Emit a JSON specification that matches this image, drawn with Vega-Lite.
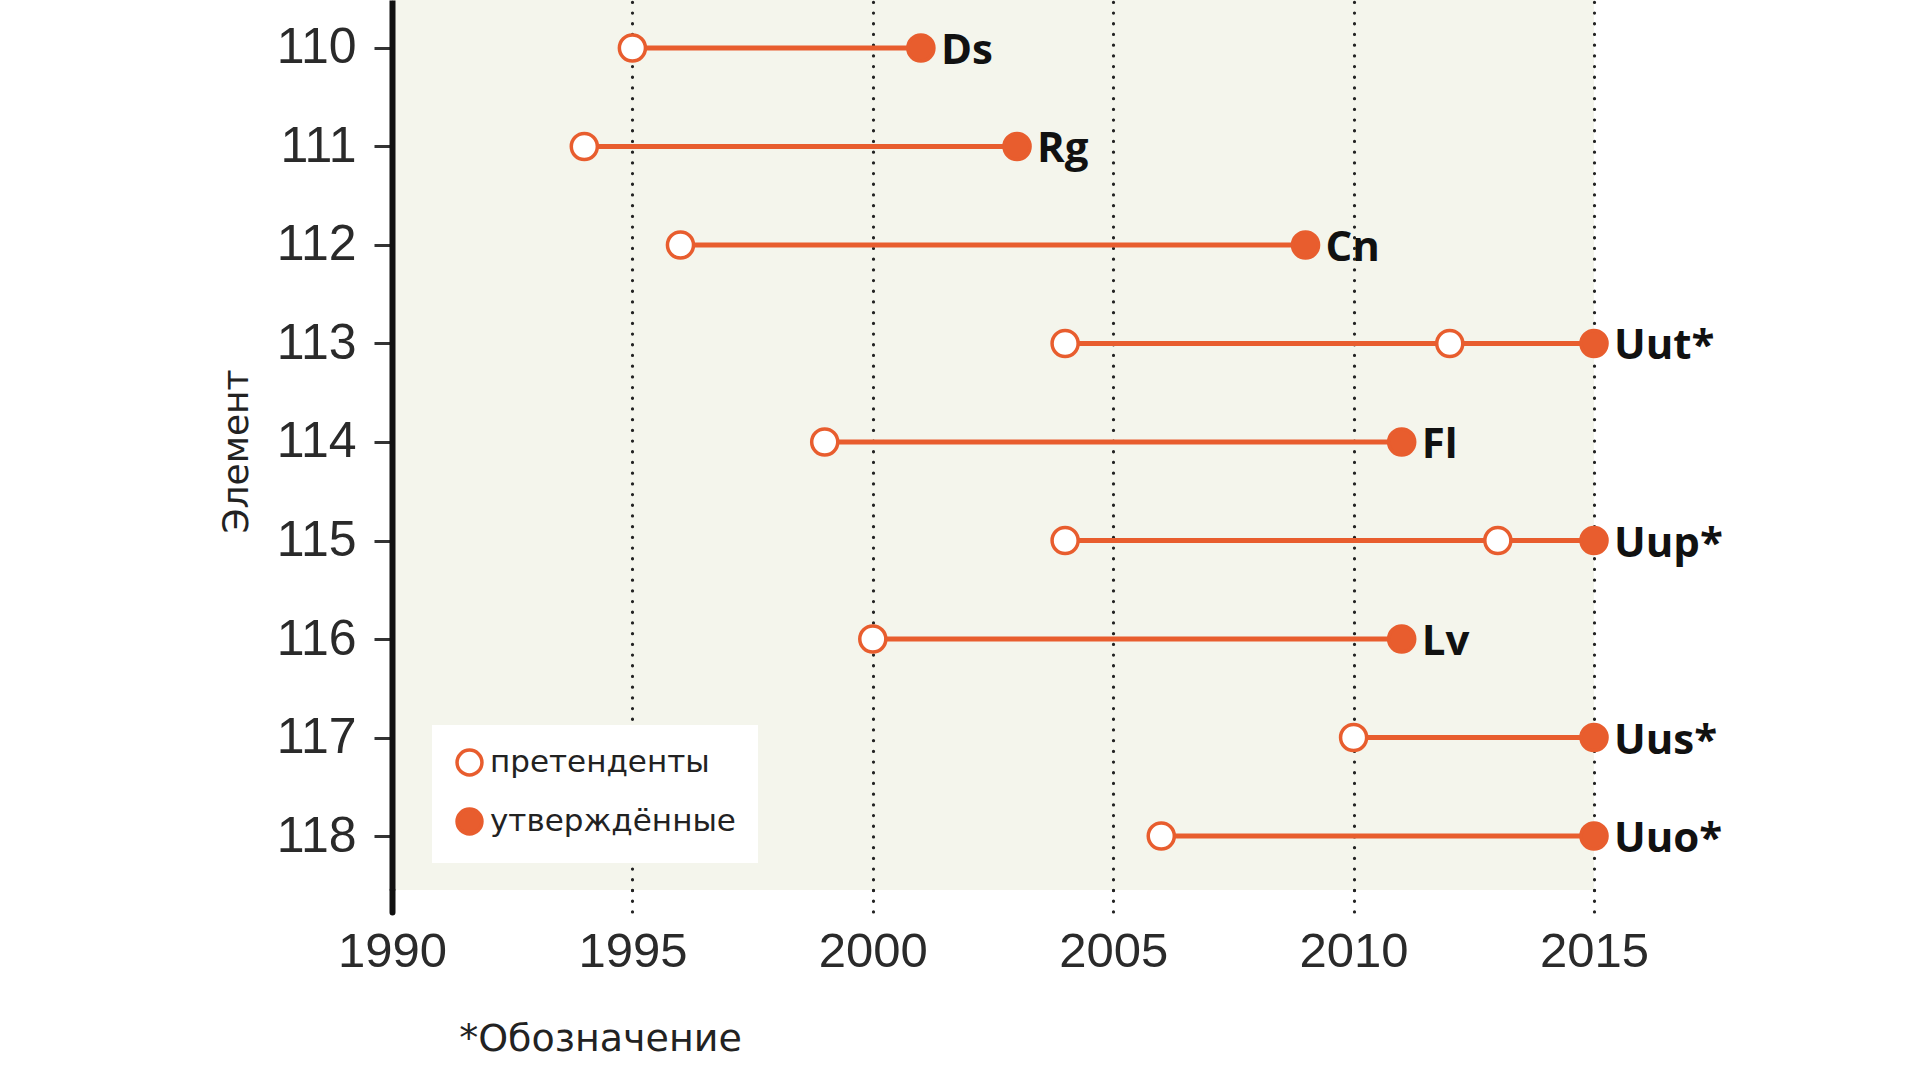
{
  "$schema": "https://vega.github.io/schema/vega-lite/v6.json",
  "autosize": "none",
  "padding": {"left": 392, "top": 0, "right": 326, "bottom": 190},
  "width": 1202,
  "height": 890,
  "background": "white",
  "config": {"view": {"stroke": null, "fill": "#f4f5ec"}},
  "datasets": {
    "segments": [
      {"element": 110, "start": 1995, "end": 2001, "label": "Ds"},
      {"element": 111, "start": 1994, "end": 2003, "label": "Rg"},
      {"element": 112, "start": 1996, "end": 2009, "label": "Cn"},
      {"element": 113, "start": 2004, "end": 2015, "label": "Uut*"},
      {"element": 114, "start": 1999, "end": 2011, "label": "Fl"},
      {"element": 115, "start": 2004, "end": 2015, "label": "Uup*"},
      {"element": 116, "start": 2000, "end": 2011, "label": "Lv"},
      {"element": 117, "start": 2010, "end": 2015, "label": "Uus*"},
      {"element": 118, "start": 2006, "end": 2015, "label": "Uuo*"}
    ],
    "points": [
      {"element": 110, "year": 1995, "status": "претенденты"},
      {"element": 110, "year": 2001, "status": "утверждённые"},
      {"element": 111, "year": 1994, "status": "претенденты"},
      {"element": 111, "year": 2003, "status": "утверждённые"},
      {"element": 112, "year": 1996, "status": "претенденты"},
      {"element": 112, "year": 2009, "status": "утверждённые"},
      {"element": 113, "year": 2004, "status": "претенденты"},
      {"element": 113, "year": 2012, "status": "претенденты"},
      {"element": 113, "year": 2015, "status": "утверждённые"},
      {"element": 114, "year": 1999, "status": "претенденты"},
      {"element": 114, "year": 2011, "status": "утверждённые"},
      {"element": 115, "year": 2004, "status": "претенденты"},
      {"element": 115, "year": 2013, "status": "претенденты"},
      {"element": 115, "year": 2015, "status": "утверждённые"},
      {"element": 116, "year": 2000, "status": "претенденты"},
      {"element": 116, "year": 2011, "status": "утверждённые"},
      {"element": 117, "year": 2010, "status": "претенденты"},
      {"element": 117, "year": 2015, "status": "утверждённые"},
      {"element": 118, "year": 2006, "status": "претенденты"},
      {"element": 118, "year": 2015, "status": "утверждённые"}
    ]
  },
  "encoding": {
    "y": {
      "field": "element",
      "type": "quantitative",
      "scale": {"domain": [109.513, 118.548], "reverse": true, "nice": false, "zero": false},
      "axis": {
        "title": "Элемент",
        "values": [110, 111, 112, 113, 114, 115, 116, 117, 118],
        "format": "d",
        "grid": false,
        "zindex": 1,
        "domainColor": "#111",
        "domainWidth": 6,
        "tickColor": "#333",
        "tickSize": 18,
        "tickWidth": 3,
        "labelPadding": 18,
        "labelFont": "Liberation Sans",
        "labelFontSize": 50,
        "labelColor": "#2a2a2a",
        "titleFont": "DejaVu Sans",
        "titleFontSize": 36,
        "titleFontWeight": "normal",
        "titleColor": "#222",
        "titleX": -156,
        "titleY": 451,
        "titleAlign": "center",
        "titleBaseline": "middle",
        "titleAngle": -90
      }
    }
  },
  "layer": [
    {
      "data": {"name": "segments"},
      "mark": {"type": "rule", "color": "#e85d2e", "strokeWidth": 5},
      "encoding": {
        "x": {
          "field": "start",
          "type": "quantitative",
          "scale": {"domain": [1990, 2015], "nice": false, "zero": false},
          "axis": {
            "title": "*Обозначение",
            "values": [1990, 1995, 2000, 2005, 2010, 2015],
            "format": "d",
            "domain": false,
            "ticks": true,
            "tickSize": 22,
            "tickColor": {"condition": {"test": "datum.value === 1990", "value": "#111"}, "value": "#222"},
            "tickWidth": {"condition": {"test": "datum.value === 1990", "value": 6}, "value": 3.2},
            "tickDash": {"condition": {"test": "datum.value === 1990", "value": [1, 0]}, "value": [0.1, 10.6]},
            "tickCap": "round",
            "grid": true,
            "gridColor": "#222",
            "gridWidth": 3.2,
            "gridDash": [0.1, 10.6],
            "gridCap": "round",
            "labelFlush": false,
            "labelOverlap": false,
            "labelPadding": 15,
            "labelFont": "Liberation Sans",
            "labelFontSize": 49,
            "labelColor": "#2a2a2a",
            "titleFont": "DejaVu Sans",
            "titleFontSize": 38,
            "titleFontWeight": "normal",
            "titleColor": "#222",
            "titleX": 208,
            "titleY": 160,
            "titleAlign": "center",
            "titleBaseline": "alphabetic",
            "titleAnchor": null
          }
        },
        "x2": {"field": "end"}
      }
    },
    {
      "data": {"name": "points"},
      "mark": {"type": "point", "shape": "circle", "filled": true, "stroke": "#e85d2e", "strokeWidth": 3.5, "size": 680, "opacity": 1},
      "encoding": {
        "x": {"field": "year", "type": "quantitative"},
        "fill": {
          "field": "status",
          "type": "nominal",
          "scale": {"domain": ["претенденты", "утверждённые"], "range": ["#ffffff", "#e85d2e"]},
          "legend": {
            "title": null,
            "orient": "none",
            "legendX": 40,
            "legendY": 725,
            "fillColor": "#ffffff",
            "padding": 22,
            "rowPadding": 20,
            "symbolType": "circle",
            "symbolSize": 620,
            "symbolStrokeColor": "#e85d2e",
            "symbolStrokeWidth": 3.5,
            "symbolOpacity": 1,
            "labelFont": "DejaVu Sans",
            "labelFontSize": 31,
            "labelColor": "#222",
            "labelOffset": 5,
            "labelLimit": 400
          }
        }
      }
    },
    {
      "data": {"name": "segments"},
      "mark": {"type": "text", "align": "left", "baseline": "middle", "dx": 20, "dy": 3, "font": "Open Sans", "fontWeight": "bold", "fontSize": 42, "color": "#111"},
      "encoding": {
        "x": {"field": "end", "type": "quantitative"},
        "text": {"field": "label"}
      }
    }
  ]
}
